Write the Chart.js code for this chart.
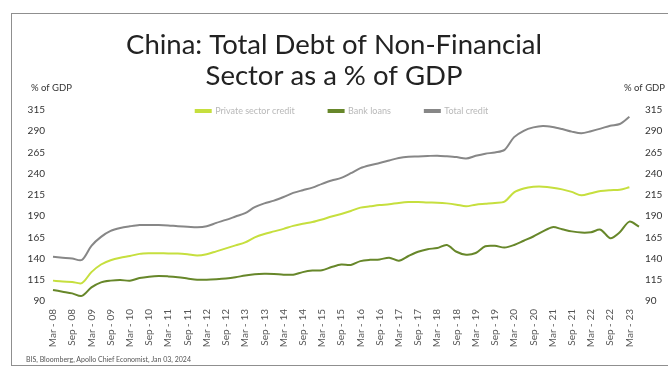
<!DOCTYPE html>
<html>
<head>
<meta charset="utf-8">
<script src="https://cdn.jsdelivr.net/npm/chart.js@4"></script>
<style>
  html, body { margin: 0; padding: 0; background: #fff; }
  #wrap { position: relative; width: 668px; height: 369px; overflow: hidden; }
  #frame {
    position: absolute; left: 11px; top: 13px; width: 700px; height: 351px;
    border: 1.5px solid #8f8f8f; border-right: none;
  }
  #chart { position: absolute; left: 0; top: 0; }
  #source {
    position: absolute; left: 26px; top: 355px;
    font: 7px Lato, sans-serif; color: #555;
  }
</style>
</head>
<body>
<div id="wrap">
  <div id="frame"></div>
  <canvas id="chart" width="668" height="369"></canvas>
  <div id="source">BIS, Bloomberg, Apollo Chief Economist, Jan 03, 2024</div>
</div>
<script>
// quarterly categories, Mar-08 .. Jun-23
const quarters = ["Mar", "Jun", "Sep", "Dec"];
const firstYear = 2008;
const quarterCount = 62;

// % of GDP
const privateCredit = [
  114, 113, 112.5, 111, 124, 133, 138, 141, 143, 145.5,
  146.2, 146.2, 146, 146, 145, 143.5, 145, 148.5, 152, 155.5,
  159, 165, 169, 172, 175, 178.5, 181, 183, 186, 189.5,
  192.5, 196, 200, 201.5, 203, 204, 205.5, 206.5, 206.5, 206,
  205.8, 205, 203.5, 201.5, 203.5, 204.5, 205.5, 207, 218, 222.5,
  224.5, 224.7, 223.5, 221.5, 218.5, 214.5, 217, 219.5, 220.5, 221,
  224, null
];
const bankLoans = [
  103, 101, 99, 96, 106, 112, 114, 114.8, 113.8, 117,
  118.7, 119.5, 119, 118, 116.5, 115, 115, 115.6, 116.5, 118,
  120, 121.5, 122, 121.8, 121, 121, 124, 125.8, 126.2, 130,
  133, 132.4, 137, 138.5, 139, 141, 137.5, 143, 148, 151,
  152.5, 156, 148, 144.5, 146.5, 154.5, 155, 153, 156, 161,
  166, 172, 177, 174.5, 172, 170.6, 171, 174, 164, 171,
  183.5, 177.5
];
const totalCredit = [
  142, 141, 140, 138.3, 155, 165.5, 172.5, 176, 178, 179.5,
  179.5, 179.5, 179, 178, 177.5, 176.8, 178, 182, 185.5, 189.5,
  193.5, 200.5, 205, 208.2, 212.5, 217.3, 220.5, 223.5, 228, 232,
  235, 240.5, 246.5, 250, 252.5, 255.5, 258.5, 260, 260.3, 260.8,
  261.2, 260.5, 259.5, 257.8, 261, 263.5, 265, 268, 283, 290.5,
  294.5, 296.2, 295, 292.5, 289.5, 287.5, 290, 293, 296.5, 298.5,
  307, null
];

const labels = [];
for (let i = 0; i < quarterCount; i++) {
  const yr = String((firstYear + Math.floor(i / 4)) % 100).padStart(2, "0");
  labels.push(quarters[i % 4] + " - " + yr);
}

const tickFont = { family: "Lato", size: 10 };

// "% of GDP" captions above both value axes
const axisCaptions = {
  id: "axisCaptions",
  afterDraw(chart) {
    const ctx = chart.ctx;
    ctx.save();
    ctx.font = "9.5px Lato";
    ctx.fillStyle = "#333";
    ctx.textBaseline = "middle";
    ctx.textAlign = "left";
    ctx.fillText("% of GDP", 31, 88);
    ctx.textAlign = "right";
    ctx.fillText("% of GDP", 665, 88);
    ctx.restore();
  },
};

// legend takes no layout room; place it on the top row of the plot
const legendPlace = {
  id: "legendPlace",
  afterLayout(chart) {
    const lg = chart.legend;
    lg.top = 72.5;
    lg.bottom = 125;
    lg.left += 8;
    lg.right += 8;
  },
};

const line = (label, data, color) => ({
  label: label,
  data: data,
  borderColor: color,
  backgroundColor: color,
  borderWidth: 2,
  pointRadius: 0,
  tension: 0.3,
});

new Chart(document.getElementById("chart"), {
  type: "line",
  data: {
    labels: labels,
    datasets: [
      line("Private sector credit", privateCredit, "#c6df3e"),
      line("Bank loans", bankLoans, "#67872a"),
      line("Total credit", totalCredit, "#878787"),
    ],
  },
  options: {
    responsive: false,
    animation: false,
    layout: { padding: 0 },
    plugins: {
      title: {
        display: true,
        text: ["China: Total Debt of Non-Financial", "Sector as a % of GDP"],
        color: "#222",
        font: { family: "Lato", size: 27.5, weight: "normal", lineHeight: 1.127 },
        padding: { top: 30, bottom: 16 },
      },
      legend: {
        display: true,
        maxHeight: 2,
        labels: {
          boxWidth: 15,
          boxHeight: 2,
          padding: 34,
          color: "#b8b8b8",
          font: { family: "Lato", size: 9 },
        },
      },
      tooltip: { enabled: false },
    },
    scales: {
      x: {
        grid: { display: false, drawTicks: false },
        border: { display: false },
        ticks: {
          autoSkip: false,
          minRotation: 90,
          maxRotation: 90,
          padding: 8,
          color: "#555",
          font: tickFont,
          callback: (v, i) => (i % 2 === 0 ? labels[i] : null),
        },
        afterFit: (s) => { s.height = 68; },
      },
      y: {
        position: "left",
        min: 90,
        max: 315,
        grid: { display: false, drawTicks: false },
        border: { display: false },
        ticks: { stepSize: 25, padding: 8, color: "#333", font: tickFont },
        afterFit: (s) => { s.width = 53; },
      },
      y2: {
        position: "right",
        min: 90,
        max: 315,
        grid: { display: false, drawTicks: false },
        border: { display: false },
        ticks: { stepSize: 25, padding: 6, color: "#333", font: tickFont },
        afterFit: (s) => { s.width = 29; },
      },
    },
  },
  plugins: [axisCaptions, legendPlace],
});
</script>
</body>
</html>
